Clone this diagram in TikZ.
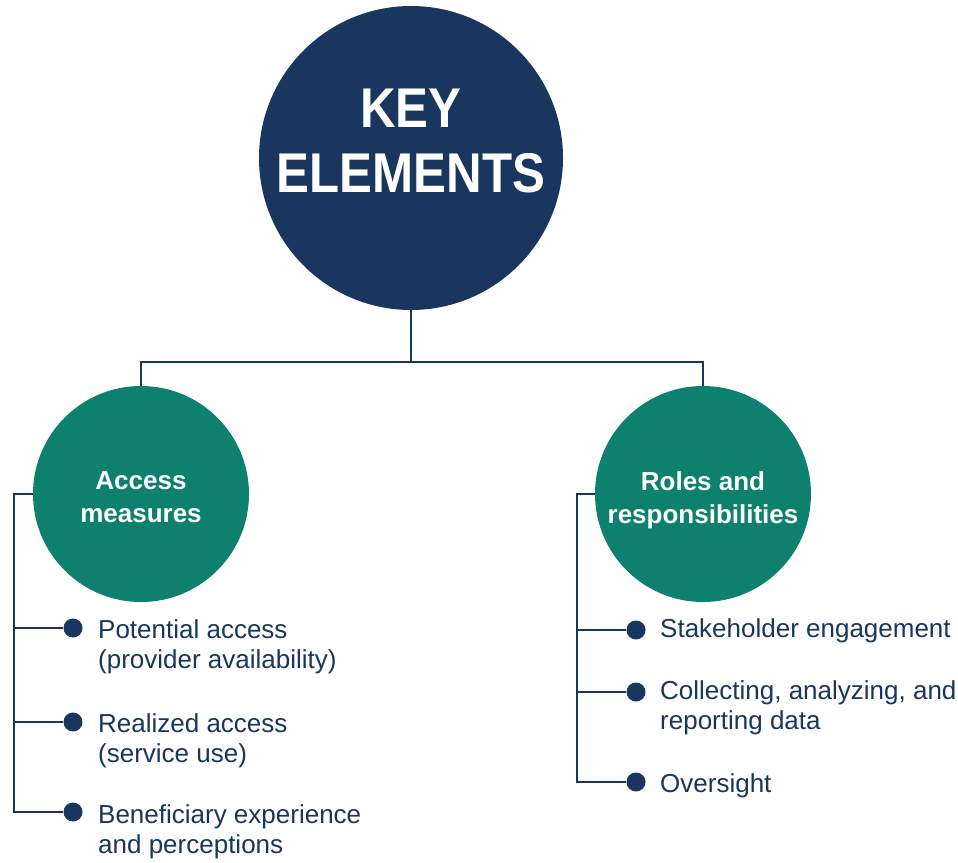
\documentclass[tikz,border=0pt]{standalone}
\usepackage{fontspec}
\setmainfont{Liberation Sans}
\newfontfamily\headfont[FakeStretch=0.88]{Liberation Sans}
\definecolor{navyc}{RGB}{24,54,94}
\definecolor{tealc}{RGB}{14,128,110}
\begin{document}
\begin{tikzpicture}[x=1pt,y=-1pt,
  conn/.style={draw=navyc, line width=1.8pt},
  bigcirc/.style={circle, fill=navyc, minimum size=304pt, inner sep=0pt},
  subcirc/.style={circle, fill=tealc, minimum size=216pt, inner sep=0pt},
  dotc/.style={circle, fill=navyc, minimum size=19pt, inner sep=0pt},
  headtxt/.style={text=white, align=center, inner sep=0pt, font=\headfont\bfseries\fontsize{56}{65}\selectfont},
  subtxt/.style={text=white, align=center, inner sep=0pt, font=\bfseries\fontsize{26}{34}\selectfont},
  itemtxt/.style={text=navyc, align=left, inner sep=0pt, anchor=base west, font=\fontsize{26}{30}\selectfont}
]
\useasboundingbox (0,0) rectangle (958,862);
% circles
\node[bigcirc] (key) at (411,158) {};
\node[subcirc] (am) at (141,494) {};
\node[subcirc] (rr) at (703,494) {};
% circle texts
\node[headtxt, anchor=base] (keyt1) at (411,127) {KEY};
\node[headtxt, anchor=base] (keyt2) at (411,192) {ELEMENTS};
\node[subtxt, anchor=base] (amt1) at (141,489) {Access};
\node[subtxt, anchor=base] (amt2) at (141,522) {measures};
\node[subtxt, anchor=base] (rrt1) at (703,490) {Roles and};
\node[subtxt, anchor=base] (rrt2) at (703,523) {responsibilities};
% tree connectors
\coordinate (hub) at (411,362);
\draw[conn] (key.south) -- (hub);
\draw[conn] (am.north) |- (hub) -| (rr.north);
% left list (base anchor = baseline of last line)
\node[dotc] (l1) at (73,628) {};
\node[dotc] (l2) at (73,722) {};
\node[dotc] (l3) at (73,812) {};
\node[itemtxt] (l1t) at (98,668) {Potential access\\(provider availability)};
\node[itemtxt] (l2t) at (98,762) {Realized access\\(service use)};
\node[itemtxt] (l3t) at (98,853) {Beneficiary experience\\and perceptions};
\coordinate (lb) at (14,494);
\draw[conn] (am.west) -- (lb) |- (l3);
\draw[conn] (lb |- l1) -- (l1);
\draw[conn] (lb |- l2) -- (l2);
% right list
\node[dotc] (r1) at (636,630) {};
\node[dotc] (r2) at (636,692) {};
\node[dotc] (r3) at (636,782) {};
\node[itemtxt] (r1t) at (660,637) {Stakeholder engagement};
\node[itemtxt] (r2t) at (660,729) {Collecting, analyzing, and\\reporting data};
\node[itemtxt] (r3t) at (660,792) {Oversight};
\coordinate (rb) at (577,494);
\draw[conn] (rr.west) -- (rb) |- (r3);
\draw[conn] (rb |- r1) -- (r1);
\draw[conn] (rb |- r2) -- (r2);
\end{tikzpicture}
\end{document}
